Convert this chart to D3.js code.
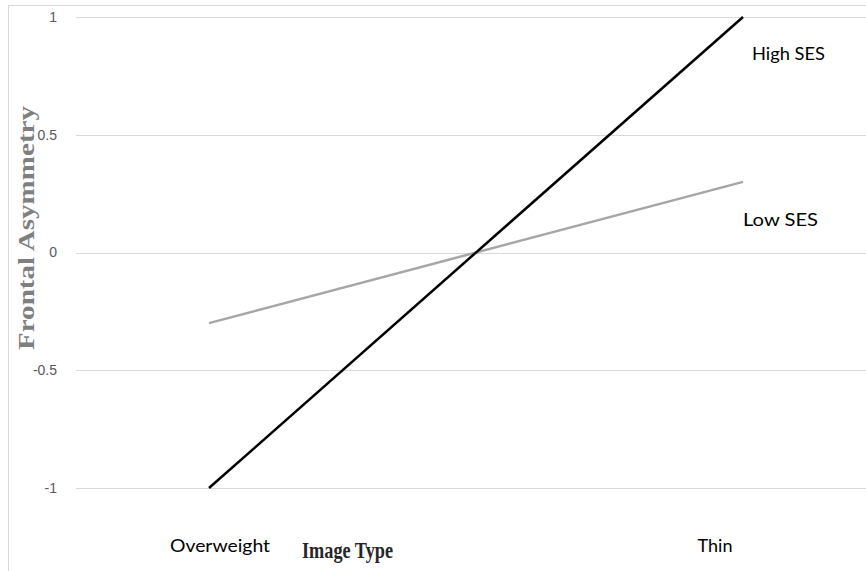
<!DOCTYPE html>
<html><head><meta charset="utf-8">
<script src="https://cdn.jsdelivr.net/npm/d3@7"></script>
<style>body{margin:0;background:#fff}</style>
</head><body>
<svg id="c" width="866" height="571"></svg>
<script>
const categories = ["Overweight", "Thin"];
const highSES = [-1, 1];
const lowSES = [-0.3, 0.3];
const yTicks = [-1, -0.5, 0, 0.5, 1];
const seriesNames = ["High SES", "Low SES"];

const svg = d3.select("#c");
svg.append("rect").attr("x", 8.5).attr("y", 5.5).attr("width", 900).attr("height", 600)
  .attr("fill", "#fff").attr("stroke", "#d9d9d9").attr("stroke-width", 1);

const y = d3.scaleLinear().domain([-1, 1]).range([488, 17]);
const x = d3.scalePoint().domain(categories).range([209, 743]);
const xLab = d3.scalePoint().domain(categories).range([220, 715]);
const labW = {"Overweight": 100, "Thin": 35};

// gridlines
svg.append("g").selectAll("line").data(yTicks).join("line")
  .attr("x1", 76).attr("x2", 866)
  .attr("y1", d => Math.round(y(d)) + 0.5).attr("y2", d => Math.round(y(d)) + 0.5)
  .attr("stroke", "#d9d9d9").attr("stroke-width", 1);

// y tick labels
svg.append("g").selectAll("text").data(yTicks).join("text")
  .attr("x", 57).attr("y", d => y(d)).attr("dy", "0.35em")
  .attr("text-anchor", "end").attr("fill", "#595959")
  .attr("font-family", "Liberation Sans, Arial, sans-serif").attr("font-size", 14)
  .text(d => String(d));

// x labels
svg.append("g").selectAll("text").data(categories).join("text")
  .attr("x", d => xLab(d) - labW[d] / 2).attr("y", 552)
  .attr("textLength", d => labW[d]).attr("lengthAdjust", "spacingAndGlyphs")
  .attr("fill", "#000").attr("font-family", "Lato, sans-serif").attr("font-size", 17)
  .text(d => d);

const line = d3.line().x((d, i) => x(categories[i])).y(d => y(d));
svg.append("path").datum(lowSES).attr("d", line).attr("fill", "none")
  .attr("stroke", "#a6a6a6").attr("stroke-width", 2.5);
svg.append("path").datum(highSES).attr("d", line).attr("fill", "none")
  .attr("stroke", "#000").attr("stroke-width", 2.5);

// series labels
svg.append("text").attr("x", 752).attr("y", 60)
  .attr("textLength", 73).attr("lengthAdjust", "spacingAndGlyphs")
  .attr("font-family", "Lato, sans-serif").attr("font-size", 17).attr("fill", "#000")
  .text(seriesNames[0]);
svg.append("text").attr("x", 743).attr("y", 226)
  .attr("textLength", 75).attr("lengthAdjust", "spacingAndGlyphs")
  .attr("font-family", "Lato, sans-serif").attr("font-size", 17).attr("fill", "#000")
  .text(seriesNames[1]);

// axis titles
svg.append("text").attr("transform", "translate(34,228) rotate(-90)")
  .attr("x", -122).attr("textLength", 244).attr("lengthAdjust", "spacingAndGlyphs")
  .attr("font-family", "Liberation Serif, Times New Roman, serif")
  .attr("font-weight", "bold").attr("font-size", 23).attr("fill", "#7f7f7f")
  .text("Frontal Asymmetry");
svg.append("text").attr("transform", "translate(302,558) scale(1,1.2)")
  .attr("textLength", 91).attr("lengthAdjust", "spacingAndGlyphs")
  .attr("font-family", "Liberation Serif, Times New Roman, serif")
  .attr("font-weight", "bold").attr("font-size", 20).attr("fill", "#262626")
  .text("Image Type");
</script>
</body></html>
